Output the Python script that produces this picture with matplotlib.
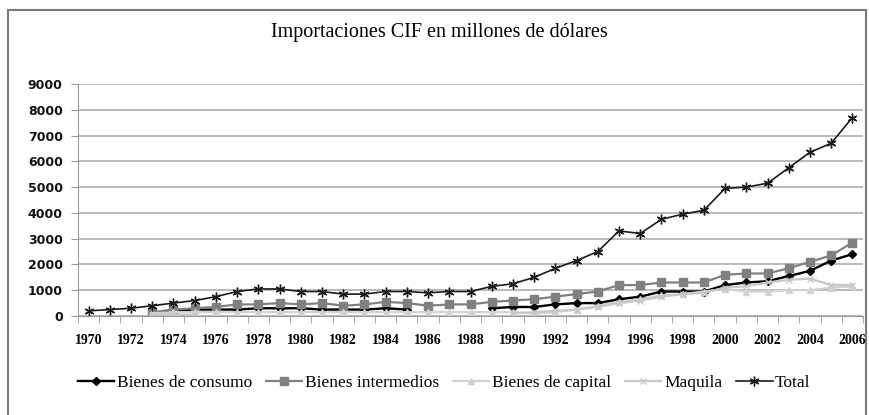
import numpy as np
import matplotlib
matplotlib.use('Agg')
import matplotlib.pyplot as plt
from matplotlib.patches import Rectangle

years = list(range(1970, 2007))

# valores (millones de dolares)
nan = np.nan
consumo = [nan, nan, nan, 100, 200, 250, 250, 250, 300, 300,
           300, 250, 250, 250, 300, 250, nan, nan, nan, 300,
           350, 350, 450, 500, 500, 650, 750, 950, 950, 950,
           1200, 1300, 1350, 1550, 1750, 2150, 2400]
intermedios = [nan, nan, nan, 150, 250, 300, 350, 450, 450, 500,
               450, 500, 400, 450, 550, 500, 400, 450, 450, 550,
               600, 650, 750, 850, 950, 1200, 1200, 1300, 1300, 1300,
               1600, 1650, 1650, 1850, 2100, 2350, 2850]
capital = [nan, nan, nan, 100, 150, 150, 150, 150, 150, 150,
           150, 150, 150, 150, 150, 150, 150, 150, 150, 150,
           150, 100, 150, 250, 400, 550, 650, 800, 850, 950,
           1050, 950, 950, 1000, 1000, 1100, 1150]
maquila = [nan, nan, nan, 50, 50, 50, nan, nan, nan, nan,
           nan, nan, nan, nan, nan, nan, nan, nan, nan, nan,
           100, 150, 200, 250, 350, 500, 600, 750, 850, 900,
           1100, 1150, 1300, 1400, 1450, 1200, 1200]
total = [200, 250, 300, 400, 500, 600, 750, 950, 1050, 1050,
         950, 950, 850, 850, 950, 950, 900, 950, 950, 1150,
         1250, 1500, 1850, 2150, 2500, 3300, 3200, 3750, 3950, 4100,
         4950, 5000, 5150, 5750, 6350, 6700, 7700]

serif = 'Liberation Serif'

fig = plt.figure(figsize=(8.7, 4.15), dpi=100)
fig.patches.append(Rectangle((8 / 870, -0.1), 858 / 870, 1 - 10 / 415 + 0.1,
                             transform=fig.transFigure, fill=False,
                             edgecolor='#7a7a7a', linewidth=1.5))

ax = fig.add_axes([78 / 870, 99 / 415, 785 / 870, 232 / 415])

ax.plot(years, consumo, color='black', marker='D', markersize=4, linewidth=1.7,
        label='Bienes de consumo')
ax.plot(years, intermedios, color='#808080', marker='s', markersize=6, linewidth=1.6,
        label='Bienes intermedios')
ax.plot(years, capital, color='#d2d2d2', marker='^', markersize=5, linewidth=1.6,
        label='Bienes de capital')
ax.plot(years, maquila, color='#c8c8c8', marker='x', markersize=5, linewidth=1.6,
        label='Maquila')
ax.plot(years, total, color='#1a1a1a', marker=(6, 2, 0), markersize=7, linewidth=1.2,
        label='Total')

ax.set_xlim(1969.5, 2006.5)
ax.set_ylim(0, 9000)
ax.set_yticks(range(0, 9001, 1000))
ax.set_xticks(range(1970, 2007, 2))
ax.set_xticks(np.arange(1969.5, 2007, 1), minor=True)
ax.tick_params(axis='x', which='major', length=0, pad=13)
ax.tick_params(axis='x', which='minor', length=5, color='#999999', direction='out')
ax.tick_params(axis='y', length=5, color='#999999', pad=6)
for lab in ax.get_xticklabels():
    lab.set_fontfamily(serif)
    lab.set_fontweight('bold')
    lab.set_fontsize(10)
for lab in ax.get_yticklabels():
    lab.set_fontfamily('DejaVu Sans')
    lab.set_fontweight('bold')
    lab.set_fontsize(9)
    lab.set_color('#111111')

ax.grid(axis='y', color='#b4b4b4', linewidth=1.3)
ax.set_axisbelow(True)
for side in ['top', 'right']:
    ax.spines[side].set_visible(False)
ax.spines['left'].set_color('#999999')
ax.spines['bottom'].set_color('#999999')

fig.text(439 / 870, 1 - 33 / 415, 'Importaciones CIF en millones de dólares',
         ha='center', va='center', fontsize=14.5, fontfamily=serif)

leg = fig.legend(loc='center left', bbox_to_anchor=(62 / 870, 1 - 383 / 415), ncol=5,
                 frameon=False, handlelength=2.1, columnspacing=0.8, handletextpad=0.15,
                 prop={'family': serif, 'size': 12.5})

fig.savefig('out.png', dpi=100)
